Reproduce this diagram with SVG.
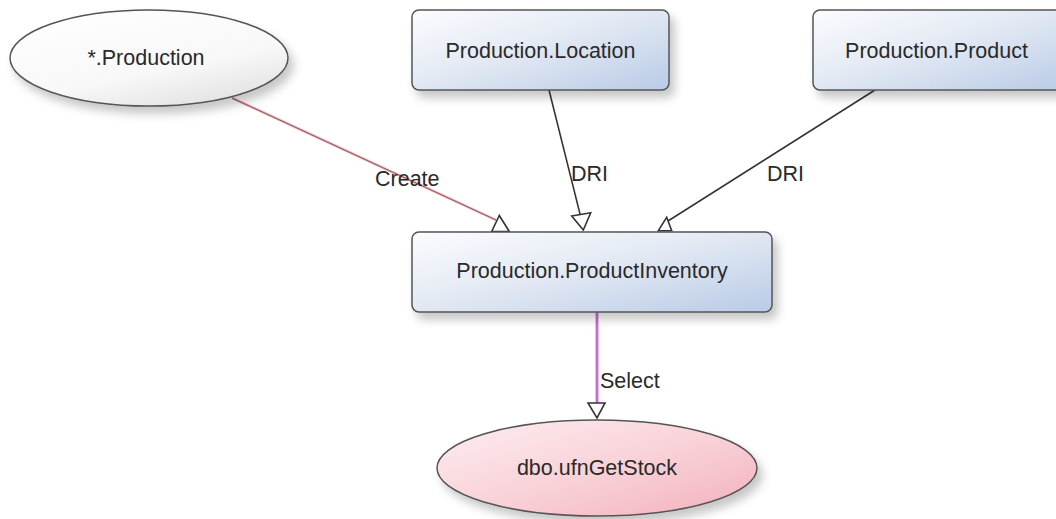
<svg xmlns="http://www.w3.org/2000/svg" width="1056" height="519" viewBox="0 0 1056 519">
  <defs>
    <linearGradient id="gBox" x1="0" y1="0" x2="1" y2="1">
      <stop offset="0" stop-color="#fbfcfe"/>
      <stop offset="0.45" stop-color="#e4eaf4"/>
      <stop offset="1" stop-color="#b9cbe6"/>
    </linearGradient>
    <linearGradient id="gGray" x1="0" y1="0" x2="0.6" y2="1">
      <stop offset="0" stop-color="#ffffff"/>
      <stop offset="0.7" stop-color="#f8f8f8"/>
      <stop offset="1" stop-color="#e6e6e6"/>
    </linearGradient>
    <linearGradient id="gPink" x1="0" y1="0" x2="1" y2="1">
      <stop offset="0" stop-color="#fdeef0"/>
      <stop offset="0.5" stop-color="#f9d3d9"/>
      <stop offset="1" stop-color="#f3b0bb"/>
    </linearGradient>
    <filter id="shadow" x="-10%" y="-20%" width="130%" height="160%">
      <feDropShadow dx="5" dy="7" stdDeviation="5" flood-color="#000" flood-opacity="0.22"/>
    </filter>
    <style>
      .box { fill: url(#gBox); stroke: #555; stroke-width: 1.5; filter: url(#shadow); }
      .ell { stroke: #555; stroke-width: 1.5; filter: url(#shadow); }
      .lbl { font-family: "Liberation Sans", Arial, sans-serif; font-size: 21.5px; fill: #2a2a2a; }
      .mid { text-anchor: middle; }
      .head { fill: #fff; stroke: #333; stroke-width: 1.6; stroke-linejoin: miter; }
    </style>
  </defs>
  <rect width="1056" height="519" fill="#fff"/>

  <g id="connectors">
    <g id="edge-create">
      <line x1="232" y1="98" x2="496" y2="220" stroke="#f3c6cc" stroke-width="3"/>
      <line x1="232" y1="98" x2="496" y2="220" stroke="#9a5a60" stroke-width="1.1"/>
      <polygon class="head" points="499.3,215.5 491.7,231.5 509.3,231.5"/>
      <text class="lbl" x="375" y="186">Create</text>
    </g>
    <g id="edge-dri-location">
      <line x1="549" y1="90" x2="581" y2="218" stroke="#333" stroke-width="1.5"/>
      <polygon class="head" points="571.7,216 590.7,212.7 583.3,230"/>
      <text class="lbl" x="571" y="181">DRI</text>
    </g>
    <g id="edge-dri-product">
      <line x1="875" y1="90" x2="668" y2="221" stroke="#333" stroke-width="1.5"/>
      <polygon class="head" points="658.3,230.7 671.7,230.7 666.7,217.3"/>
      <text class="lbl" x="767" y="181">DRI</text>
    </g>
    <g id="edge-select">
      <line x1="597" y1="312" x2="597" y2="403" stroke="#e6a8ee" stroke-width="3.5"/>
      <line x1="597" y1="312" x2="597" y2="403" stroke="#b65ec0" stroke-width="1.5"/>
      <polygon class="head" points="588,403 605,403 597,418"/>
      <text class="lbl" x="600" y="388">Select</text>
    </g>
  </g>

  <g id="node-production">
    <ellipse class="ell" cx="149" cy="58" rx="139" ry="48" fill="url(#gGray)"/>
    <text class="lbl mid" x="146" y="65">*.Production</text>
  </g>

  <g id="node-location">
    <rect class="box" x="412" y="10" width="257" height="80" rx="7"/>
    <text class="lbl mid" x="540.5" y="58">Production.Location</text>
  </g>

  <g id="node-product">
    <rect class="box" x="813" y="10" width="257" height="80" rx="7"/>
    <text class="lbl mid" x="936.5" y="58">Production.Product</text>
  </g>

  <g id="node-productinventory">
    <rect class="box" x="412" y="232" width="360" height="80" rx="7"/>
    <text class="lbl mid" x="592" y="278">Production.ProductInventory</text>
  </g>

  <g id="node-ufngetstock">
    <ellipse class="ell" cx="597" cy="468" rx="160" ry="48" fill="url(#gPink)"/>
    <text class="lbl mid" x="597" y="475">dbo.ufnGetStock</text>
  </g>
</svg>
